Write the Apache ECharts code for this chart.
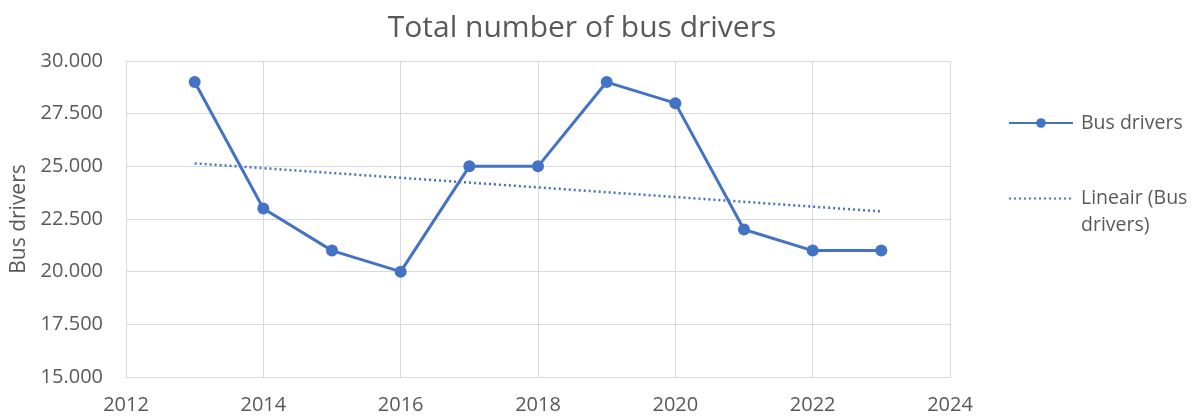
<!DOCTYPE html>
<html>
<head>
<meta charset="utf-8">
<script src="https://cdn.jsdelivr.net/npm/echarts@6/dist/echarts.min.js"></script>
<style>
  html, body { margin: 0; padding: 0; background: #ffffff; }
  #chart { width: 1201px; height: 420px; }
</style>
</head>
<body>
<div id="chart"></div>
<script>
// Yearly counts of bus drivers
const years = [2013, 2014, 2015, 2016, 2017, 2018, 2019, 2020, 2021, 2022, 2023];
const drivers = [29000, 23000, 21000, 20000, 25000, 25000, 29000, 28000, 22000, 21000, 21000];
// Linear trend endpoints (first and last year)
const trendYears = [2013, 2023];
const trendValues = [25140, 22860];
// Axis ranges
const xTicks = { min: 2012, max: 2024, step: 2 };
const yTicks = { min: 15000, max: 30000, step: 2500 };

const blue = '#4472C4';
const textGrey = '#595959';
const gridGrey = '#d9d9d9';
const fontFamily = '"Open Sans", "Noto Sans", sans-serif';

const fmtThousands = v => String(v).replace(/\B(?=(\d{3})+(?!\d))/g, '.');

const legendLine = 27;

const chart = echarts.init(document.getElementById('chart'), null, { renderer: 'canvas' });
chart.setOption({
  animation: false,
  backgroundColor: '#ffffff',
  textStyle: { fontFamily: fontFamily },
  title: {
    text: 'Total number of bus drivers',
    left: 577, top: 8, textAlign: 'center',
    textStyle: { color: textGrey, fontSize: 30, fontWeight: 'normal', fontFamily: fontFamily }
  },
  grid: { left: 126, right: 251, top: 61, bottom: 43, containLabel: false, outerBoundsMode: 'none' },
  legend: [{
    data: ['Bus drivers'],
    orient: 'vertical',
    left: 1003, top: 108,
    itemWidth: 64, itemHeight: 12,
    textStyle: { color: textGrey, fontSize: 19.5, fontFamily: fontFamily, padding: [0, 0, 0, 3] }
  }, {
    data: ['Lineair (Bus drivers)'],
    orient: 'vertical',
    left: 1003, top: 153,
    itemWidth: 64, itemHeight: 12,
    itemStyle: { opacity: 0 },
    // leading blank line keeps the icon level with the first text line
    formatter: () => ' \nLineair (Bus\ndrivers)',
    textStyle: {
      color: textGrey, fontSize: 19.5, lineHeight: legendLine, fontFamily: fontFamily,
      padding: [0, 0, 0, 3]
    }
  }],
  xAxis: {
    type: 'value',
    min: xTicks.min, max: xTicks.max, interval: xTicks.step,
    axisLine: { show: true, lineStyle: { color: gridGrey, width: 1 } },
    axisTick: { show: false },
    axisLabel: { color: textGrey, fontSize: 20, margin: 18, formatter: v => String(v) },
    splitLine: { show: true, lineStyle: { color: gridGrey, width: 1 } }
  },
  yAxis: {
    type: 'value',
    min: yTicks.min, max: yTicks.max, interval: yTicks.step,
    name: 'Bus drivers',
    nameLocation: 'middle',
    nameGap: 86,
    nameTextStyle: { color: textGrey, fontSize: 21, fontFamily: fontFamily },
    axisLine: { show: false },
    axisTick: { show: false },
    axisLabel: { color: textGrey, fontSize: 20, margin: 23, formatter: fmtThousands },
    splitLine: { show: true, lineStyle: { color: gridGrey, width: 1 } }
  },
  series: [{
    name: 'Bus drivers',
    type: 'line',
    data: years.map((y, i) => [y, drivers[i]]),
    symbol: 'circle',
    symbolSize: 12,
    lineStyle: { color: blue, width: 3 },
    itemStyle: { color: blue },
    z: 3
  }, {
    name: 'Lineair (Bus drivers)',
    type: 'line',
    data: trendYears.map((y, i) => [y, trendValues[i]]),
    symbol: 'none',
    lineStyle: { color: blue, width: 2.5, type: [2, 3] },
    itemStyle: { color: blue },
    z: 2
  }]
});
</script>
</body>
</html>
